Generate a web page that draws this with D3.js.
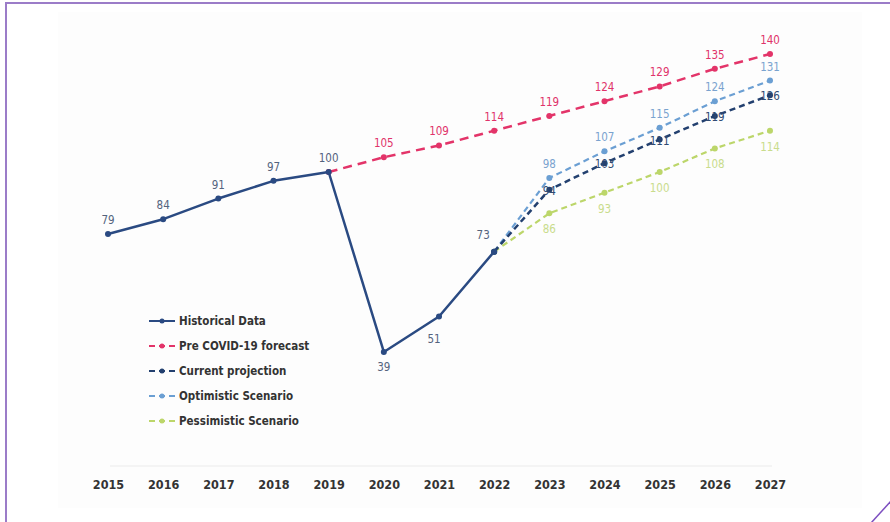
<!DOCTYPE html>
<html>
<head>
<meta charset="utf-8">
<script src="https://cdn.jsdelivr.net/npm/d3@7"></script>
<style>
  html, body { margin: 0; padding: 0; background: #ffffff; }
  svg { display: block; }
  text { font-family: "DejaVu Sans", sans-serif; font-stretch: condensed; }
</style>
</head>
<body>
<svg id="chart" width="890" height="522"></svg>
<script>
// Years on the horizontal axis
const years = [2015, 2016, 2017, 2018, 2019, 2020, 2021, 2022, 2023, 2024, 2025, 2026, 2027];

// Index values (2019 = 100)
const historical = [
  {year: 2015, value: 79}, {year: 2016, value: 84}, {year: 2017, value: 91},
  {year: 2018, value: 97}, {year: 2019, value: 100}, {year: 2020, value: 39},
  {year: 2021, value: 51}, {year: 2022, value: 73}
];
const preCovid = [
  {year: 2019, value: 100}, {year: 2020, value: 105}, {year: 2021, value: 109},
  {year: 2022, value: 114}, {year: 2023, value: 119}, {year: 2024, value: 124},
  {year: 2025, value: 129}, {year: 2026, value: 135}, {year: 2027, value: 140}
];
const currentProjection = [
  {year: 2022, value: 73}, {year: 2023, value: 94}, {year: 2024, value: 103},
  {year: 2025, value: 111}, {year: 2026, value: 119}, {year: 2027, value: 126}
];
const optimistic = [
  {year: 2022, value: 73}, {year: 2023, value: 98}, {year: 2024, value: 107},
  {year: 2025, value: 115}, {year: 2026, value: 124}, {year: 2027, value: 131}
];
const pessimistic = [
  {year: 2022, value: 73}, {year: 2023, value: 86}, {year: 2024, value: 93},
  {year: 2025, value: 100}, {year: 2026, value: 108}, {year: 2027, value: 114}
];

const legendLabels = ["Historical Data", "Pre COVID-19 forecast", "Current projection",
                      "Optimistic Scenario", "Pessimistic Scenario"];

const svg = d3.select("#chart");

// Page frame
svg.append("rect").attr("x", 58).attr("y", 12).attr("width", 804).attr("height", 496)
  .attr("fill", "#fdfdfd");
svg.append("line").attr("x1", 5).attr("x2", 890).attr("y1", 3).attr("y2", 3)
  .attr("stroke", "#9b7cc8").attr("stroke-width", 2);
svg.append("line").attr("x1", 6).attr("x2", 6).attr("y1", 2).attr("y2", 522)
  .attr("stroke", "#9b7cc8").attr("stroke-width", 2);
svg.append("line").attr("x1", 871).attr("y1", 523).attr("x2", 891).attr("y2", 501)
  .attr("stroke", "#7d4fc0").attr("stroke-width", 1.5);

const x = d3.scaleLinear().domain([2015, 2027]).range([108, 770]);
const y = d3.scaleLinear().domain([0, 140]).range([467, 54]);

// Baseline and year axis
svg.append("line").attr("x1", 110).attr("x2", 772).attr("y1", 466).attr("y2", 466)
  .attr("stroke", "#ebebeb").attr("stroke-width", 1);

const xAxis = d3.axisBottom(x).tickValues(years).tickFormat(d3.format("d")).tickSize(0).tickPadding(0);
const gx = svg.append("g").attr("transform", "translate(0,480)").call(xAxis);
gx.select(".domain").remove();
gx.selectAll("text").attr("font-size", 12.5).attr("font-weight", "bold").attr("fill", "#333333")
  .attr("dy", "0.71em")
  .style("font-family", "'DejaVu Sans', sans-serif").style("font-stretch", "condensed");

const line = d3.line().x(d => x(d.year)).y(d => y(d.value));

const series = [
  {name: legendLabels[1], data: preCovid, color: "#e33469", width: 2.5, dash: "9,6", labelColor: "#e0336a", labelPos: "above"},
  {name: legendLabels[4], data: pessimistic, color: "#bcd66a", width: 2.2, dash: "6,4", labelColor: "#c9dc8c", labelPos: "below"},
  {name: legendLabels[3], data: optimistic, color: "#6b9fd3", width: 2.2, dash: "6,4", labelColor: "#7aa3cf", labelPos: "above"},
  {name: legendLabels[2], data: currentProjection, color: "#23406f", width: 2.5, dash: "6,4", labelColor: "#2f4a72", labelPos: "on"},
  {name: legendLabels[0], data: historical, color: "#2a4a82", width: 2.5, dash: null, labelColor: "#54637e", labelPos: "above"}
];

series.forEach(s => {
  svg.append("path").datum(s.data).attr("d", line)
    .attr("fill", "none").attr("stroke", s.color).attr("stroke-width", s.width)
    .attr("stroke-dasharray", s.dash).attr("stroke-linejoin", "round");
  svg.selectAll(null).data(s.data).enter().append("circle")
    .attr("cx", d => x(d.year)).attr("cy", d => y(d.value)).attr("r", 3)
    .attr("fill", s.color);
});

// Value labels
function addLabels(s, skip) {
  svg.selectAll(null).data(s.data.filter(d => !skip.includes(d.year))).enter().append("text")
    .attr("x", d => x(d.year))
    .attr("y", d => {
      if (s.labelPos === "above") return y(d.value) - 10;
      if (s.labelPos === "below") return y(d.value) + 20;
      return y(d.value) + 5;
    })
    .attr("text-anchor", "middle").attr("font-size", 11.5).attr("font-weight", "normal")
    .attr("fill", s.labelColor).text(d => d.value);
}
addLabels(series[0], [2019]);
addLabels(series[1], [2022]);
addLabels(series[2], [2022]);
addLabels(series[3], [2022]);

// Historical labels: special placements for the dip
const histOffsets = {2020: [0, 19], 2021: [-5, 26], 2022: [-11, -13]};
svg.selectAll(null).data(historical).enter().append("text")
  .attr("x", d => x(d.year) + (histOffsets[d.year] ? histOffsets[d.year][0] : 0))
  .attr("y", d => y(d.value) + (histOffsets[d.year] ? histOffsets[d.year][1] : -10))
  .attr("text-anchor", "middle").attr("font-size", 11.5).attr("font-weight", "normal")
  .attr("fill", "#54637e").text(d => d.value);

// Legend
const legendItems = [
  {label: legendLabels[0], color: "#2a4a82", dash: null},
  {label: legendLabels[1], color: "#e33469", dash: "6,4"},
  {label: legendLabels[2], color: "#23406f", dash: "6,4"},
  {label: legendLabels[3], color: "#6b9fd3", dash: "6,4"},
  {label: legendLabels[4], color: "#bcd66a", dash: "6,4"}
];
const legend = svg.append("g").attr("transform", "translate(149,321)");
legendItems.forEach((it, i) => {
  const g = legend.append("g").attr("transform", `translate(0,${i * 25})`);
  g.append("line").attr("x1", 0).attr("x2", 26).attr("y1", 0).attr("y2", 0)
    .attr("stroke", it.color).attr("stroke-width", 2).attr("stroke-dasharray", it.dash);
  g.append("circle").attr("cx", 13).attr("cy", 0).attr("r", 2.5).attr("fill", it.color);
  g.append("text").attr("x", 30).attr("y", 0).attr("dy", "0.35em")
    .attr("font-size", 11.5).attr("font-weight", "bold").attr("fill", "#333333")
    .text(it.label);
});
</script>
</body>
</html>
